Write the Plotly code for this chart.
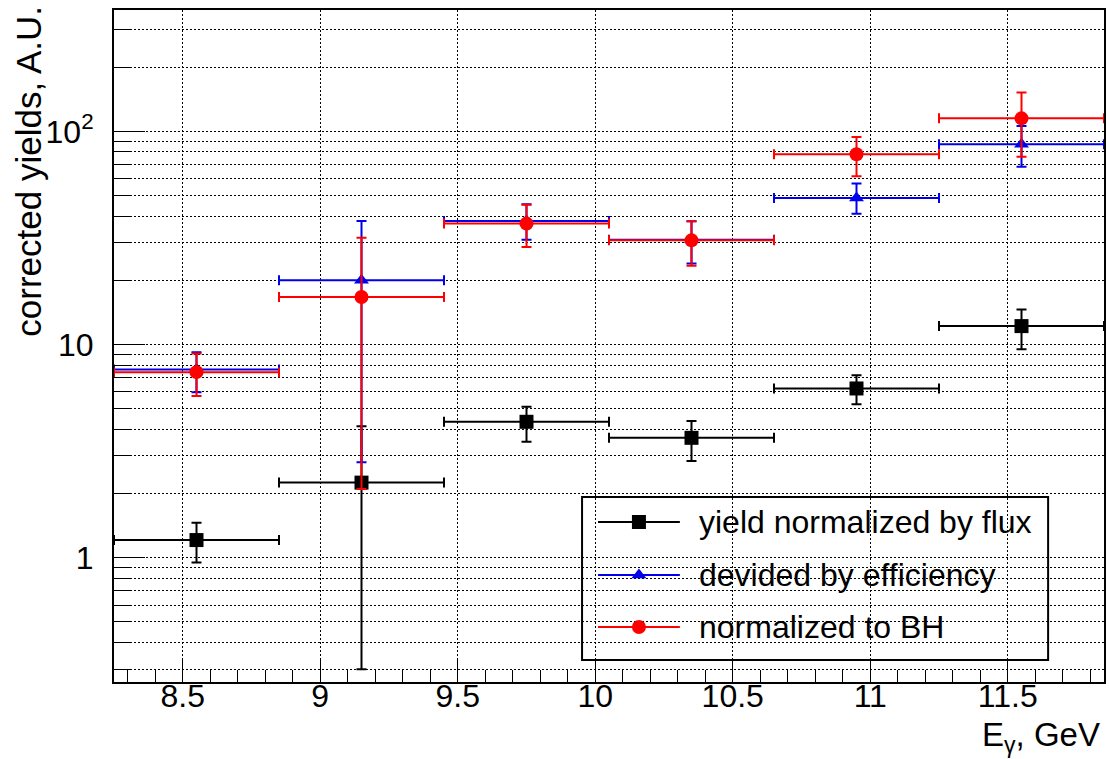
import plotly.graph_objects as go

# Photon-energy bins (GeV): centres and half-widths
e_gamma = [8.55, 9.15, 9.75, 10.35, 10.95, 11.55]
e_halfwidth = [0.3, 0.3, 0.3, 0.3, 0.3, 0.3]

# yield normalized by flux
flux_y = [1.21, 2.25, 4.34, 3.65, 6.22, 12.2]
flux_up = [0.25, 1.89, 0.76, 0.73, 0.96, 2.4]
flux_dn = [0.26, 1.95, 0.84, 0.81, 0.98, 2.7]

# devided by efficiency
eff_y = [7.63, 20.0, 38.0, 31.0, 48.7, 87.0]
eff_up = [1.57, 18.0, 7.5, 6.9, 8.2, 19.0]
eff_dn = [1.66, 17.2, 7.0, 7.0, 7.6, 18.8]

# normalized to BH
bh_y = [7.42, 16.7, 36.9, 30.8, 78.0, 115.0]
bh_up = [1.65, 15.0, 8.4, 7.1, 16.0, 37.0]
bh_dn = [1.68, 14.6, 8.2, 7.4, 16.5, 39.0]

series_names = ["yield normalized by flux", "devided by efficiency", "normalized to BH"]
series_colors = ["#000000", "#0000ee", "#ff0000"]
series_symbols = ["square", "triangle-up", "circle"]
series_sizes = [14, 13, 14]

y_major = [1, 10, 100]
y_major_text = ["1", "10", "10<sup>2</sup>"]
y_minor = [0.3, 0.4, 0.5, 0.6, 0.7, 0.8, 0.9,
           2, 3, 4, 5, 6, 7, 8, 9,
           20, 30, 40, 50, 60, 70, 80, 90,
           200, 300]

FONT = "Liberation Sans, Arial, Helvetica, sans-serif"
W, H = 1109, 759
L, R, T, B = 114, 3, 10, 77

fig = go.Figure()

datasets = [(flux_y, flux_up, flux_dn), (eff_y, eff_up, eff_dn), (bh_y, bh_up, bh_dn)]
for (yv, up, dn), name, col, sym, sz in zip(datasets, series_names, series_colors,
                                            series_symbols, series_sizes):
    fig.add_trace(go.Scatter(
        x=e_gamma, y=yv, mode="markers", name=name, showlegend=False,
        marker=dict(symbol=sym, size=sz, color=col, line=dict(width=0)),
        error_x=dict(type="data", array=e_halfwidth, symmetric=True,
                     color=col, thickness=2, width=5),
        error_y=dict(type="data", array=up, arrayminus=dn, symmetric=False,
                     color=col, thickness=2, width=5),
    ))

# Legend box drawn in paper space, markers on an overlay axis spanning [0,1]
plot_w = W - L - R
plot_h = H - T - B
def px_x(p):
    return (p - L) / plot_w
def px_y(p):
    return (H - B - p) / plot_h

box = dict(x0=px_x(583), x1=px_x(1050), y0=px_y(660), y1=px_y(497))
row_y = [px_y(522), px_y(575), px_y(627)]
line_x0, line_x1, mark_x, text_x = px_x(599), px_x(681), px_x(640), px_x(698)

fig.add_shape(type="rect", xref="paper", yref="paper", **box,
              line=dict(color="black", width=2), fillcolor="white", layer="between")
for ry, name, col, sym, sz in zip(row_y, series_names, series_colors,
                                  series_symbols, series_sizes):
    fig.add_shape(type="line", xref="paper", yref="paper",
                  x0=line_x0, x1=line_x1, y0=ry, y1=ry,
                  line=dict(color=col, width=2), layer="between")
    fig.add_annotation(xref="paper", yref="paper", x=text_x, y=ry,
                       xanchor="left", yanchor="middle", showarrow=False,
                       text=name, font=dict(family=FONT, size=32, color="black"))
    fig.add_trace(go.Scatter(
        x=[mark_x], y=[ry], xaxis="x2", yaxis="y2", mode="markers",
        showlegend=False, hoverinfo="skip",
        marker=dict(symbol=sym, size=sz, color=col, line=dict(width=0)),
    ))

# Axis titles
fig.add_annotation(xref="paper", yref="paper", x=px_x(28), y=px_y(4),
                   xanchor="center", yanchor="top", textangle=-90, showarrow=False,
                   text="corrected yields, A.U.",
                   font=dict(family=FONT, size=35, color="black"))
fig.add_annotation(xref="paper", yref="paper", x=px_x(1104), y=px_y(737),
                   xanchor="right", yanchor="middle", showarrow=False,
                   text="E<sub>γ</sub>, GeV",
                   font=dict(family=FONT, size=33, color="black"))

grid_style = dict(gridcolor="black", gridwidth=1, griddash="2px,2px")

fig.update_layout(
    width=W, height=H,
    margin=dict(l=L, r=R, t=T, b=B, pad=0),
    paper_bgcolor="white", plot_bgcolor="white",
    showlegend=False,
    xaxis=dict(
        range=[8.25, 11.85], tick0=8.5, dtick=0.5, ticks="inside", ticklen=24,
        tickwidth=1, tickcolor="black", showgrid=True, **grid_style,
        showline=True, linecolor="black", linewidth=2, mirror=True, zeroline=False,
        tickfont=dict(family=FONT, size=32, color="black"), ticklabelstandoff=-15,
        minor=dict(dtick=0.1, tick0=8.3, ticks="inside", ticklen=12, tickwidth=1,
                   tickcolor="black", showgrid=False),
    ),
    yaxis=dict(
        type="log", range=[-0.583, 2.569], tickmode="array", tickvals=y_major,
        ticktext=y_major_text, ticks="inside", ticklen=31, tickwidth=1,
        tickcolor="black", showgrid=True, **grid_style,
        showline=True, linecolor="black", linewidth=2, mirror=True, zeroline=False,
        tickfont=dict(family=FONT, size=32, color="black"), ticklabelstandoff=12,
        minor=dict(tickmode="array", tickvals=y_minor, ticks="inside", ticklen=18,
                   tickwidth=1, tickcolor="black", showgrid=True, **grid_style),
    ),
    xaxis2=dict(overlaying="x", anchor="y2", range=[0, 1], visible=False),
    yaxis2=dict(overlaying="y", anchor="x2", range=[0, 1], visible=False),
)

fig.write_html("out.html")
